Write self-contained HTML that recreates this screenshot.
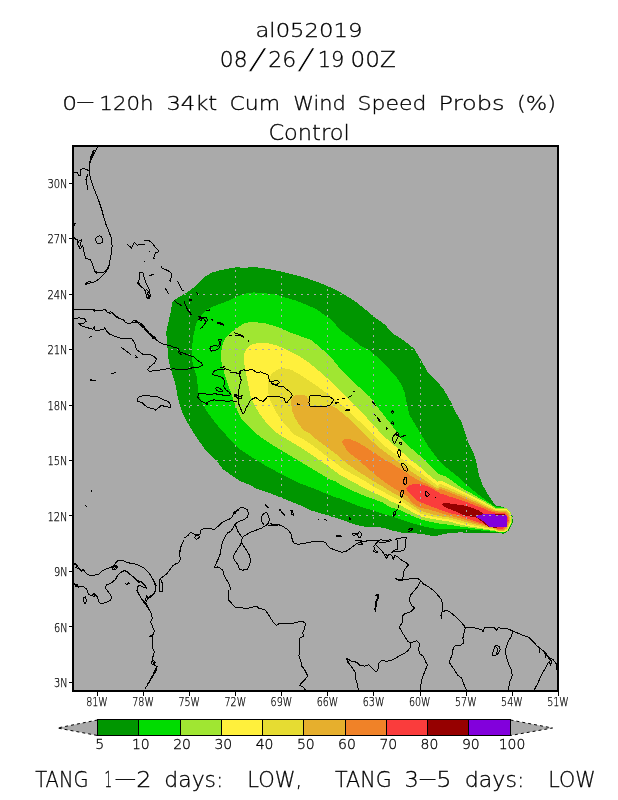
<!DOCTYPE html>
<html lang="en"><head><meta charset="utf-8"><title>al052019 0-120h 34kt Cum Wind Speed Probs</title>
<style>html,body{margin:0;padding:0;background:#fff;overflow:hidden}svg{display:block;will-change:transform}text{font-family:"DejaVu Sans Light","DejaVu Sans","Liberation Sans",sans-serif;font-weight:200;fill:#000;stroke:#000;stroke-width:.3px}.t{font-size:20.5px}.t1{font-size:19px}.t3{font-size:19.6px}.s{font-size:28px;stroke:#fff;stroke-width:.5px}.b{font-size:22px}.a{font-size:12px;stroke-width:.25px}.c{font-size:14px;stroke-width:.3px}</style></head><body>
<svg width="618" height="800" viewBox="0 0 618 800">
<rect width="618" height="800" fill="#fff"/>
<rect x="73" y="146" width="485" height="545" fill="#aaaaaa"/>
<clipPath id="cp"><rect x="73" y="146" width="485" height="545"/></clipPath>
<g clip-path="url(#cp)">
<g shape-rendering="crispEdges">
<path d="M257.0,267.3L270.0,269.3L283.0,272.0L305.6,277.8L325.0,284.8L341.0,292.6L354.0,300.5L366.0,310.0L375.6,318.0L385.0,324.7L391.8,332.8L404.7,341.0L414.4,349.0L421.0,360.0L427.4,371.7L437.0,381.4L444.0,390.0L449.8,400.0L453.0,406.5L457.0,414.6L461.0,421.0L465.0,432.0L468.0,442.0L472.7,451.0L476.0,460.0L478.9,475.2L483.0,485.8L488.3,495.2L495.7,505.7L503.0,506.8L508.3,510.0L512.5,516.3L512.5,523.6L508.3,531.0L504.0,533.7L492.0,532.7L469.4,532.7L460.0,532.4L450.6,532.9L444.0,534.0L437.7,535.6L432.8,536.0L424.7,534.5L416.6,533.4L408.5,533.4L400.5,532.4L392.4,530.5L384.3,528.0L376.2,526.9L368.0,527.2L359.0,525.6L350.9,523.2L342.8,520.0L334.7,517.5L326.6,515.0L318.5,512.7L310.5,510.2L302.4,506.2L294.3,503.0L286.2,499.7L278.0,496.5L270.0,493.2L257.0,489.0L250.0,485.0L239.0,480.5L230.9,474.8L222.8,469.0L218.0,462.7L211.5,456.2L205.0,449.7L198.5,440.0L192.0,430.3L186.4,420.6L182.4,412.5L179.0,402.8L177.5,395.6L175.9,385.9L173.5,377.8L171.0,369.7L168.6,360.0L167.8,352.0L167.0,342.2L166.2,332.5L167.8,324.4L170.2,314.7L172.7,301.0L180.7,296.2L188.8,291.3L196.9,284.9L205.0,276.8L211.5,272.7L219.6,270.3L227.7,268.7L235.8,267.4L243.9,267.6Z" fill="#009600"/>
<path d="M253.9,292.4L273.3,294.0L295.9,300.5L315.3,308.5L331.5,319.9L340.0,329.6L346.9,335.0L353.4,339.9L361.5,346.3L369.6,350.4L376.0,356.0L384.0,363.3L390.6,370.6L397.0,377.9L401.0,384.0L404.5,392.0L406.0,400.0L407.7,406.5L409.3,414.6L414.1,422.7L419.0,430.7L423.8,438.8L428.7,446.9L433.5,453.4L438.4,459.9L444.9,466.3L452.9,472.8L460.0,478.5L468.0,486.0L477.0,493.5L486.2,500.4L494.7,506.4L503.0,507.4L507.9,510.6L511.7,516.5L511.7,523.6L507.7,530.4L503.9,532.9L495.7,532.2L484.0,530.8L470.0,529.5L460.0,528.8L450.0,529.3L440.0,529.5L430.0,527.8L420.4,525.6L410.0,522.5L400.0,519.3L390.0,515.9L382.7,513.7L373.5,510.8L369.0,509.3L359.4,506.4L349.7,502.5L340.0,498.6L334.7,497.3L326.6,493.8L315.0,489.0L299.0,483.0L283.0,475.0L266.8,466.3L250.0,456.0L240.6,449.7L232.5,442.4L226.0,435.0L219.6,427.9L213.0,419.8L206.6,410.9L201.8,402.8L198.5,394.0L197.7,385.9L197.0,377.8L194.5,369.7L192.4,361.6L191.7,353.5L192.4,343.8L193.7,334.0L196.0,324.4L200.0,316.3L206.6,309.9L213.0,306.5L219.6,304.0L227.7,301.0L235.8,297.0L243.9,293.8Z" fill="#00dc00"/>
<path d="M250.2,322.0L263.8,322.9L277.4,326.8L289.0,332.0L301.5,336.5L311.0,340.0L319.0,346.5L326.0,352.5L334.0,361.0L340.5,369.0L346.9,375.5L353.4,382.0L361.5,389.2L369.6,396.5L376.0,405.0L382.6,413.6L389.0,421.7L395.0,429.8L400.5,437.5L407.0,444.5L413.4,450.2L419.9,455.8L426.3,462.3L432.8,468.8L439.3,474.4L444.9,476.0L449.7,478.9L454.6,482.8L459.4,486.2L464.3,489.6L469.0,492.0L474.0,494.9L478.8,497.8L483.7,500.3L488.5,503.2L492.4,505.6L495.3,507.6L500.0,508.3L507.4,508.5L510.4,511.5L511.6,516.8L511.6,522.9L508.1,530.2L504.6,532.4L497.0,531.8L495.7,531.4L484.0,529.6L470.0,527.8L460.0,526.5L450.0,524.8L440.0,523.7L430.0,521.8L420.4,519.3L410.0,514.7L400.0,510.0L390.0,507.2L382.7,502.5L373.5,499.0L369.0,497.7L359.4,493.8L349.7,489.4L340.4,484.6L335.2,481.0L330.0,479.5L320.9,474.0L304.7,464.4L288.5,454.7L272.4,445.0L264.0,439.5L256.2,433.7L248.0,425.5L241.5,418.5L238.2,412.5L234.0,402.0L230.9,392.5L228.0,384.3L225.2,376.2L222.8,368.0L221.2,360.0L221.2,352.0L222.8,343.8L226.0,337.4L230.9,332.5L237.4,327.7L243.9,323.5Z" fill="#a0e632"/>
<path d="M258.3,342.8L267.2,343.0L276.9,345.5L285.0,348.8L293.0,352.8L301.0,357.3L308.0,362.0L315.0,367.5L322.0,373.5L329.0,379.8L335.5,386.0L342.0,392.5L348.5,399.0L355.0,405.5L361.5,412.0L367.5,418.5L373.0,424.3L379.4,431.6L385.9,438.0L392.4,443.7L398.8,449.4L405.3,455.0L411.8,460.7L418.3,465.5L424.7,471.2L431.2,476.9L437.7,481.7L440.0,480.4L444.9,482.3L449.7,484.7L454.6,487.2L459.4,489.6L464.3,492.0L469.0,494.4L474.0,496.9L478.8,499.3L483.7,502.0L488.5,504.6L492.4,506.9L495.3,508.5L500.0,509.0L507.0,509.2L510.0,512.2L511.2,517.5L511.2,522.5L507.7,529.8L504.2,532.0L497.0,531.4L495.7,530.6L484.0,528.6L470.0,526.5L460.0,524.6L450.0,521.6L440.0,520.3L430.0,518.5L420.4,516.4L410.0,510.7L400.0,505.0L390.0,500.9L382.7,496.7L373.5,492.8L369.0,490.4L359.4,485.5L349.7,480.2L340.0,474.9L335.2,471.4L330.0,467.5L322.0,462.0L312.0,455.0L300.0,447.0L290.0,441.0L281.3,436.0L275.3,432.0L269.6,426.4L264.8,420.8L259.9,414.3L255.9,407.8L252.7,401.3L250.2,394.9L248.6,386.8L247.0,378.7L245.4,370.6L244.2,362.5L244.2,354.4L246.2,348.8L251.0,344.7Z" fill="#fff03c"/>
<path d="M283.4,368.2L291.5,369.8L299.8,374.6L307.8,379.8L316.0,385.2L324.0,391.2L332.4,397.3L340.5,403.8L346.9,409.4L353.4,415.9L359.9,421.8L366.5,428.0L373.0,434.5L379.4,440.5L385.9,446.9L392.4,451.8L398.8,456.6L405.3,461.5L411.8,466.3L418.3,471.2L424.7,476.0L431.2,480.9L437.7,485.8L440.0,483.8L444.9,485.7L449.7,487.7L454.6,490.0L459.4,492.3L464.3,494.4L469.0,496.6L474.0,499.0L478.8,501.2L483.7,503.7L488.5,506.0L492.4,508.0L495.3,509.5L500.0,509.8L506.5,510.0L509.5,513.0L510.7,518.3L510.7,522.0L507.2,529.3L503.7,531.5L497.0,530.9L495.7,529.8L484.0,527.5L470.0,524.8L460.0,522.6L450.0,519.6L440.0,518.2L430.0,516.0L420.4,513.5L410.0,507.0L400.0,500.5L390.0,495.5L382.7,491.4L373.5,486.5L364.3,480.7L354.6,475.3L345.3,470.0L340.4,466.9L335.2,462.4L330.0,459.0L322.0,452.5L312.0,445.0L303.0,439.0L294.7,435.0L289.0,428.9L283.4,422.4L278.5,415.9L274.5,409.4L271.3,403.0L268.8,396.5L268.0,388.4L268.5,380.3L271.3,373.8L276.9,369.8Z" fill="#e6dc32"/>
<path d="M291.2,399.7L293.9,395.7L299.6,394.5L306.0,395.8L308.6,398.9L309.0,406.2L316.2,406.5L324.3,406.2L330.7,405.4L335.6,407.8L342.0,412.7L348.5,418.3L355.0,424.8L361.0,431.0L366.5,436.4L373.0,442.0L379.4,447.7L385.9,452.6L392.4,457.4L398.8,462.3L405.3,467.0L411.8,472.0L418.3,476.0L424.7,480.0L431.2,484.5L437.7,488.6L440.0,486.7L444.9,488.4L449.7,490.4L454.6,492.5L459.4,494.4L464.3,496.4L469.0,498.5L474.0,500.8L478.8,503.0L483.7,505.1L488.5,507.6L492.4,509.2L495.3,510.5L500.0,510.7L505.9,510.9L508.9,513.9L510.1,519.2L510.1,521.5L506.6,528.8L503.1,531.0L497.0,530.4L495.7,529.0L484.0,526.3L470.0,523.0L460.0,520.3L450.0,517.6L440.0,516.2L430.0,513.6L420.4,510.6L410.0,503.5L400.0,496.5L390.0,491.2L382.7,486.5L373.5,481.2L364.3,475.3L356.0,470.0L350.7,466.2L345.5,462.4L340.4,457.8L335.2,453.3L330.0,449.4L324.7,445.6L316.9,439.8L309.0,433.0L303.6,430.5L298.8,424.0L294.7,417.5L292.3,411.0L291.2,404.6Z" fill="#e6af2d"/>
<path d="M341.7,441.7L344.2,439.3L349.4,439.0L354.6,441.0L359.8,443.6L365.0,446.8L370.0,450.0L375.3,453.3L380.5,457.2L385.7,460.4L390.8,463.0L396.0,466.2L401.2,469.5L406.4,472.7L411.8,476.5L418.3,480.3L424.7,483.0L431.2,486.4L437.7,490.2L440.0,489.0L444.9,490.6L449.7,492.5L454.6,494.4L459.4,496.4L464.3,498.5L469.0,500.5L474.0,502.7L478.8,504.6L483.7,506.6L488.5,509.0L492.4,510.5L495.3,511.4L500.0,511.6L505.2,511.8L508.2,514.8L509.4,520.1L509.4,520.8L505.9,528.1L502.4,530.3L497.0,529.7L495.7,528.2L484.0,525.2L470.0,521.3L460.0,518.3L450.0,515.8L440.0,512.8L430.0,509.8L420.0,507.8L412.0,502.8L407.7,496.5L402.5,493.4L397.3,490.2L392.0,487.0L387.0,483.7L381.8,479.8L376.6,476.0L371.4,471.4L366.2,466.9L361.0,462.4L355.9,457.8L350.7,454.0L346.2,449.4L343.6,444.9Z" fill="#f08228"/>
<path d="M406.0,488.2L408.5,485.8L413.4,484.0L419.9,483.8L426.3,485.8L432.8,489.0L439.3,492.6L440.0,493.5L444.9,494.9L449.7,496.6L454.6,498.1L459.4,499.8L464.3,501.2L469.0,503.0L474.0,504.9L478.8,506.9L483.7,508.5L488.5,510.8L492.4,511.9L495.3,512.7L500.0,512.9L504.4,513.1L507.4,516.1L508.6,521.4L508.6,519.8L505.1,527.1L501.6,529.3L497.0,528.7L495.7,527.6L485.0,524.2L470.0,519.6L460.0,515.5L450.0,513.2L440.0,509.8L430.0,506.0L420.0,502.0L416.6,500.0L413.4,497.0L408.5,492.2Z" fill="#fa3c3c"/>
<path d="M441.9,504.6L443.9,503.2L449.7,503.5L454.6,504.2L459.4,504.9L464.3,505.6L469.0,506.9L474.0,508.5L478.8,510.5L481.7,512.4L484.0,513.9L500.0,514.2L506.0,514.6L506.6,520.0L506.3,527.2L494.0,527.6L488.5,527.2L483.0,522.5L476.5,517.6L470.0,516.5L463.3,515.3L459.4,513.4L454.6,511.0L449.7,509.0L444.9,507.0Z" fill="#960000"/>
<path d="M475.7,516.4L482.2,514.3L506.3,514.7L507.0,520.0L506.8,526.6L489.5,526.6L483.7,521.5Z" fill="#8200dc"/>
</g>
<path d="M97.5,146V691M143.5,146V691M189.5,146V691M235.5,146V691M281.5,146V691M327.5,146V691M373.5,146V691M420.5,146V691M466.5,146V691M512.5,146V691M558.5,146V691M73,183.5H558M73,238.5H558M73,294.5H558M73,349.5H558M73,405.5H558M73,460.5H558M73,515.5H558M73,571.5H558M73,626.5H558M73,682.5H558" stroke="#aaaaaa" stroke-width="1" stroke-dasharray="2 4.5" fill="none" shape-rendering="crispEdges"/>
<path d="M97.5,146.9L95.1,151.5L91.8,157.9L89.7,164.4L89.4,170.9L90.2,177.4L92.7,185.5L95.9,193.5L99.1,201.6L101.6,209.7L104.0,217.8L106.4,225.9M94.6,149.9L92.7,153.9L90.7,158.8L89.4,163.1M93.6,150.2L91.4,155.0L90.1,159.9M73.2,172.8L77.3,172.5L78.9,176.1L80.7,175.4L81.0,172.5L80.5,169.3L83.8,168.5L87.8,170.1L89.7,170.9M88.1,174.4L86.5,177.4L86.2,181.4L87.2,185.5L87.5,190.0M87.2,176.6L85.9,179.8L86.8,183.8M99.9,205.7L101.6,209.7L102.8,213.8L103.5,217.0M100.7,206.5L102.4,211.3L103.2,216.2M73.6,222.7L75.2,223.6L74.5,225.3L73.2,224.9M106.4,225.0L108.8,231.5L111.3,237.9L112.1,246.0L111.3,254.1L109.6,262.2L108.0,268.7L104.8,273.5L99.9,278.4L95.1,281.6L89.4,283.3L84.6,284.5M84.9,283.9L88.1,282.0L91.4,281.0M74.0,237.6L77.3,240.4L78.1,245.2L80.0,249.3L82.6,245.2L83.8,250.9L85.4,258.2L90.2,259.8L92.7,264.6L94.3,270.3L95.9,273.2L99.9,272.7L104.8,271.9L108.0,267.4M76.5,238.8L78.9,242.8L77.8,241.2L80.0,240.9L81.3,239.9L80.7,244.1L79.4,247.3M94.3,270.6L96.7,272.2L95.6,272.9M104.8,272.2L108.5,267.4L109.5,263.8M99.1,235.8L96.2,237.6L95.4,240.4L97.2,243.1L99.9,244.1L102.0,242.5L102.7,239.2L101.6,236.7L99.1,235.8M127.4,244.4L131.5,248.0L134.4,242.5L137.2,245.2L142.0,244.4L144.8,244.1M144.4,240.7L149.3,240.7L152.5,243.6L155.8,247.7L158.2,250.1L157.9,252.5L155.8,252.2L154.5,254.9L153.8,258.2L155.3,259.3M149.3,251.2L150.4,252.2M144.4,261.4L145.4,262.5M139.6,272.4L142.8,272.4L144.4,278.4L146.9,284.9L149.3,289.7L150.1,294.6L149.3,298.6L147.3,298.6L146.1,294.6L144.8,289.7L142.0,287.3L139.6,284.9L137.2,283.3L138.8,280.8L139.9,276.8L139.6,272.4M137.2,282.4L139.3,283.6L138.0,281.6M146.1,288.9L149.0,291.7L147.0,293.0L149.3,296.2L147.7,297.8M149.3,275.5L154.1,274.4M149.6,275.2L153.8,274.7M74.0,310.0L79.7,309.1L86.2,310.0L92.7,309.5L94.3,311.6L95.9,310.0L102.4,310.4L104.8,309.1L108.0,313.2L110.5,311.6L113.7,314.0L116.9,317.2L120.2,318.9L123.4,319.7L125.8,322.9L129.9,323.4L133.9,322.1L138.0,321.8L141.2,323.7M93.5,309.1L95.1,310.8L93.9,312.1M107.5,312.1L109.6,313.7L111.7,312.7M117.2,316.9L119.4,318.5M141.2,324.4L143.6,327.7L146.1,330.9L149.3,333.3M132.3,321.2L135.5,320.4L138.8,322.5L142.0,324.1L144.4,326.8L142.8,325.7L146.1,329.3L148.5,331.7L147.3,332.8L150.9,334.4L153.3,337.4L152.2,338.2L155.8,339.3L157.4,340.9M133.9,322.0L138.0,323.1L141.2,325.7L144.8,328.9L147.7,332.2L150.9,335.7L154.5,339.0M74.0,318.3L79.7,317.9L85.4,319.2L86.2,321.2L83.8,323.1L78.9,323.6L81.3,325.7L86.2,327.3L92.7,329.3L94.3,326.8L95.1,330.1L99.9,330.1L104.0,329.3L104.8,327.7L106.4,330.9L109.6,334.1L114.5,336.1L118.5,337.4L122.6,339.0L127.4,338.7L131.5,338.7L133.9,341.4L135.5,345.5L136.3,349.5L139.6,351.9L143.6,354.8L149.3,354.4L154.1,356.5L156.6,359.2L154.1,363.3L150.1,366.5L147.7,369.7L149.3,371.3L155.8,370.5L162.2,369.7L170.0,368.4M88.6,338.2L91.5,336.1M121.5,347.4L125.8,350.6L130.7,354.4M134.7,354.8L137.6,358.1M135.0,357.1L137.3,357.8M110.5,374.3L113.4,373.3L115.6,372.6M90.2,379.9L95.6,380.2M90.2,380.6L95.6,380.9M162.1,265.5L161.7,267.9L165.4,269.5L168.6,271.1L171.8,273.5L171.0,278.4L170.2,281.3L169.1,280.0M177.8,281.3L179.9,285.7L182.4,290.5L184.3,291.0M165.4,288.4L167.0,291.3L168.6,294.3M173.9,300.2L176.7,302.7L179.9,304.6L181.6,305.1M183.7,300.7L185.3,304.3L186.4,307.5L188.0,310.0L190.5,313.2L191.7,314.8M186.9,308.3L188.8,310.8M188.8,299.8L192.4,299.8M189.2,300.2L192.4,300.2M196.9,291.7L197.2,294.6M198.5,316.4L201.8,317.6L204.2,318.9L205.8,322.1L204.2,323.7M199.4,316.9L202.6,318.5L201.5,317.6M206.6,310.8L209.1,310.0M211.5,318.9L212.8,319.7M217.2,322.9L219.9,322.7L222.8,323.7L219.9,323.7L217.2,322.9M150.0,294.6L150.8,297.0M150.0,333.3L153.2,336.6L156.5,339.8L159.7,342.5L164.6,344.6L169.4,345.5L174.3,347.4L178.3,348.4L179.9,351.9L184.0,353.5L188.8,355.2L193.7,356.8L196.9,360.0L201.0,362.4L202.6,364.9L198.5,367.3L193.7,367.3L188.8,368.9L182.4,369.7L174.3,368.9L170.2,369.1M150.8,334.4L154.0,338.2L156.5,339.3L153.6,336.1M177.8,350.6L179.1,353.5L181.1,354.5L179.9,351.9M179.9,305.0L182.4,305.8M186.4,308.2L188.8,311.5L191.3,315.0M186.9,309.5L189.5,312.8M198.5,316.3L203.4,317.9L206.6,317.1L207.4,320.4L205.0,323.6L201.8,327.7L200.5,328.5M199.4,317.1L201.8,320.4L198.5,319.6L200.5,317.9M207.4,310.7L209.9,309.9M211.5,319.2L212.8,320.4M217.2,322.5L221.2,323.6L224.4,325.2M217.6,323.1L221.2,324.3L224.1,325.7M209.9,348.7L210.7,346.7L214.7,345.5L218.0,346.3L219.6,343.8L218.8,339.8L221.2,339.8L220.4,345.5L218.8,348.7L214.7,350.6L211.5,351.1L209.9,348.7M229.3,335.7L232.5,334.9M234.1,332.5L238.2,334.1L242.2,335.4L243.5,336.6M247.9,339.8L249.0,341.9M212.3,373.8L214.4,371.0L218.8,369.4L226.1,368.9L230.9,370.5M220.4,367.3L224.8,366.8L222.8,367.8L220.4,367.3M212.3,373.8L214.7,375.4L219.6,376.2L223.6,378.6L224.8,382.7L223.6,386.7L226.1,390.0L229.3,392.4L230.9,394.8L226.1,395.6L221.2,394.8L214.7,393.7L208.3,394.8L203.4,393.2L198.5,394.0L197.7,397.2M215.5,388.3L218.0,387.5L222.0,390.0L222.8,391.6L219.6,391.6L216.3,390.0L215.5,388.3M197.7,397.1L200.2,400.4L205.8,403.6L209.1,401.2L213.9,399.9L219.6,400.4L226.1,401.2L232.5,400.9L237.4,402.0M205.8,403.6L207.0,404.7L208.3,402.5M230.0,373.0L234.9,372.5L238.9,373.8L240.5,370.6L243.8,369.8L247.8,370.9L250.2,369.0L253.5,370.3L256.7,372.5L260.7,371.9L264.8,373.8L268.0,374.6L268.8,377.9L269.6,381.1L272.1,381.9L275.3,380.6L278.5,381.1L279.4,382.7L276.9,384.4L272.9,384.4L271.3,382.7L276.1,385.5L280.2,386.5L284.2,387.1L287.4,390.0L290.7,392.4L292.3,395.2L290.7,398.1L288.3,400.5L286.6,403.0L285.0,401.3L284.2,398.9L281.8,397.3L276.9,396.5L271.3,396.8L268.0,396.2L265.6,398.9L263.2,401.3L259.9,400.5L257.5,398.9L255.9,397.3L252.7,398.9L250.2,400.5L248.6,403.8L246.2,407.8L244.6,412.7L242.9,413.5L241.3,410.2L239.7,406.2L238.1,402.2M240.5,370.6L239.7,375.5L241.3,380.3L239.4,385.2L238.9,390.0L238.1,394.9L238.9,399.7L238.1,402.2M235.7,394.9L238.9,396.5L242.1,395.7L241.3,398.1L237.3,398.1L235.7,394.9M234.9,394.5L236.8,394.5L236.8,396.2L234.9,396.2L234.9,394.5L236.8,396.2M234.9,335.0L241.3,335.8L243.8,337.4M248.6,340.3L248.8,341.5M297.2,403.8L299.6,404.3M297.2,404.3L299.6,404.7M285.8,402.6L287.4,401.7L286.6,403.3M309.7,395.7L316.2,395.7L324.3,396.2L329.9,396.8L334.0,399.7L331.6,403.0L329.1,405.9L324.3,406.2L316.2,406.5L310.0,406.2L308.9,403.0L309.4,398.9L309.7,395.7M334.8,403.0L338.8,402.2M334.8,403.4L338.8,402.6M337.5,399.7L339.2,399.4M342.4,398.9L345.3,398.1M347.7,397.3L350.2,396.5L351.8,395.7M352.6,391.6L354.2,391.3L354.7,392.4M345.3,410.2L350.2,409.4M345.3,410.7L350.2,409.9M372.0,401.3L373.6,403.0L374.8,404.9L376.1,405.9M372.3,401.0L374.1,403.3M374.4,414.3L376.1,415.9M377.3,417.5L379.3,419.1L380.1,421.6L379.0,420.4L377.3,417.5M391.9,410.7L393.2,411.4L392.9,413.3L391.7,412.7L391.9,410.7M391.9,421.6L393.9,422.4L393.5,424.3L391.9,423.7L391.9,421.6M386.1,427.6L387.4,428.2L386.7,429.2L386.1,427.6M393.2,436.4L394.8,434.8L396.4,432.4L398.8,433.2L398.0,436.4L400.5,437.2L403.7,435.9L406.1,434.8M398.0,437.2L396.4,440.5L394.8,443.4L393.2,442.1L392.4,438.8L393.2,436.4M395.9,433.2L397.2,435.9L398.5,433.7M399.6,442.4L401.7,442.9L401.3,444.5L399.6,444.0L399.6,442.4M398.5,449.4L400.5,450.5L400.8,454.2L399.6,457.4L398.2,455.0L397.7,451.8L398.5,449.4M401.3,463.9L403.7,463.4L406.1,466.3L407.7,469.6L406.9,471.5L404.5,470.4L402.9,468.0L401.7,465.5L401.3,463.9M404.5,477.7L406.6,477.3L406.9,480.9L405.8,484.5L404.0,483.8L403.7,480.6L404.5,477.7M401.3,490.6L403.4,490.9L402.9,494.7L401.3,497.9L400.5,495.5L401.3,490.6M425.5,491.4L427.6,492.2L429.3,494.7L427.6,496.8L426.0,495.5L425.5,491.4M435.1,497.7L435.6,498.2M400.5,501.3L399.6,503.3M398.8,505.4L398.0,507.5M397.2,509.1L396.6,510.7M394.0,511.8L395.6,511.4L395.3,514.3L393.7,516.2L393.2,513.9L394.0,511.8M407.7,530.5L410.2,528.5L412.6,528.5L411.0,530.8L408.5,531.7L407.7,530.5M394.8,539.4L398.8,538.5L402.9,537.7L406.9,537.2L405.3,540.2L405.6,545.0L404.5,549.9L400.5,551.2L395.6,551.5L391.6,552.3L394.8,549.9L398.0,549.1L397.5,544.2L397.5,540.2L394.8,539.4M360.0,541.8L366.5,541.0L372.1,540.2L376.2,540.5L381.0,539.8L385.9,540.5L390.7,539.8L391.6,540.6L385.9,542.1L381.0,542.6L377.8,541.8L375.4,544.2L373.8,546.6L374.6,549.9L377.8,552.3L373.8,551.8L373.3,550.2M375.4,544.2L377.0,545.8L379.4,548.3L381.8,550.7L384.3,554.4L386.7,558.8L388.3,554.7L389.9,553.9L392.4,556.3L393.2,559.6L394.8,555.5L397.2,556.3L399.6,558.8L402.1,560.4L405.3,562.0L408.5,564.8L406.1,567.7L404.0,570.9L403.4,575.8L402.4,579.0L400.5,580.6M385.6,553.9L387.2,556.7L388.8,555.5M270.0,523.2L273.2,524.8L278.1,524.8L282.9,526.4L287.8,529.6L291.0,533.7L291.8,537.7L292.7,541.0L294.3,543.7L299.1,544.2L304.0,543.4L308.8,542.6L313.7,541.5L318.5,541.5L323.4,541.8L326.6,543.4L327.4,545.8L330.7,548.3L334.7,549.9L338.8,551.2L342.0,552.3L346.1,551.2L349.3,549.1L353.3,546.3L355.8,544.2L359.0,542.6L363.9,541.5L370.0,540.5M279.7,509.4L282.1,512.7L284.6,515.1L282.9,513.5L280.7,510.2L279.7,509.4M290.2,510.2L292.7,511.0L293.5,515.1L291.8,514.3L291.0,511.0M317.6,520.1L318.7,519.4M324.2,519.1L326.6,520.4M349.0,519.1L349.9,517.7L350.9,519.3L349.0,519.1M336.3,535.6L341.2,536.0L341.2,536.6L336.3,536.3L336.3,535.6M352.5,534.0L355.0,532.9L358.2,533.7L359.0,531.7L360.6,532.4L361.9,535.3L359.8,537.7L358.2,536.9L357.4,534.5L353.3,535.3L352.5,534.0M355.0,541.0L359.0,540.5L363.9,541.5M355.8,543.4L360.6,542.6L363.0,544.2L359.0,544.2L355.8,543.4M183.6,538.5L188.1,535.3L190.5,532.4L193.8,533.7L195.4,535.0L200.2,534.0L201.0,530.1L203.5,528.5L208.3,528.8L214.8,529.2L218.0,526.4L221.3,523.2L225.3,520.7L229.4,519.1L232.6,516.7L233.4,512.7L235.8,511.0L238.3,509.4L240.7,507.5L243.9,507.8L247.2,509.7L248.8,513.5L247.2,517.2L244.7,519.4L240.7,520.7L237.4,522.4L235.0,524.0L236.6,528.0L238.3,532.1L240.7,535.3L242.3,537.7L243.9,536.1L248.0,533.7L252.8,531.3L257.7,529.6L261.7,528.0L265.0,525.9L267.4,524.8L270.6,525.6L275.5,525.3L280.0,524.8M195.4,535.6L194.9,537.7L196.5,539.2L198.6,538.5L199.4,536.6L197.8,535.0L195.4,535.6M233.4,512.7L235.0,513.9L236.6,511.4L239.1,509.7M264.1,524.8L261.7,521.6L261.4,517.5L263.3,513.9L266.6,512.3L268.7,515.9L269.3,519.9L268.2,523.2L266.6,524.8M265.4,504.6L267.4,506.2L268.7,508.1M265.8,505.2L268.0,507.5M279.0,509.4L280.0,511.0M242.3,537.7L241.5,541.8L242.3,544.2L244.7,547.4L247.2,551.5L249.6,555.5L250.4,560.4L249.6,565.2L247.2,569.3L243.1,570.1L239.5,569.6L238.6,566.1L236.6,562.8L234.2,559.6L233.4,556.3L235.0,553.1L237.4,549.1L239.9,545.8L241.5,542.6M235.0,524.0L233.4,527.2L231.0,531.3L227.7,532.9L225.3,536.1L222.9,541.0L221.3,546.6L220.5,553.1L218.8,558.0L216.4,562.8L214.3,567.7L218.0,566.9L220.5,568.5L222.9,570.1L223.7,574.1L226.1,579.0L228.5,583.0L230.2,587.1L230.5,590.0M73.9,562.8L76.8,564.8L78.7,567.7L80.7,570.6L83.6,569.6L85.5,572.5L88.4,575.0L93.3,575.4L98.2,574.5L102.0,571.2L105.9,569.2L109.8,567.7L113.7,565.7L116.6,561.8L118.5,560.3L123.4,560.9L128.3,562.8L134.1,563.8L138.9,565.3L143.8,567.7L147.7,571.6L150.6,575.4L152.5,579.3L154.5,583.2L155.4,587.1L155.4,591.0L153.5,593.9L150.6,595.8L147.7,598.7L145.7,602.6L147.7,606.5L148.6,608.8M74.3,563.8L77.8,566.1L75.8,567.3L79.7,569.2L81.7,571.2L84.0,570.4M111.7,567.7L114.7,564.8L117.6,566.7L115.6,569.6L113.1,570.0L111.7,567.7L116.6,566.1L114.3,569.2M152.5,578.3L154.5,582.2L156.4,586.1M159.3,579.3L159.7,585.1L159.3,591.0L162.2,591.4L162.8,585.1L161.3,580.3L159.3,579.3M159.3,579.3L163.2,576.4L167.1,573.5L170.0,569.6L172.9,565.7L175.8,563.8L178.7,562.8L180.3,558.9L179.7,554.1L180.7,548.3L181.7,544.4L183.6,540.5M179.3,554.1L180.3,548.3L181.1,546.3M73.9,584.2L77.8,586.1L82.6,586.1L86.5,589.0L88.4,593.9L91.4,595.8L94.3,593.9L97.2,596.8L99.1,602.6L102.0,603.6L105.9,602.6L109.8,600.7L111.7,597.8L109.8,593.9L106.9,590.0L105.0,587.1L106.9,584.8L111.7,582.8L115.6,579.3L117.6,575.4L120.5,572.5L124.4,570.6L127.3,571.6L130.2,574.5L134.1,577.4L137.0,580.3L139.9,581.3L142.8,583.2L145.7,586.1L146.7,588.1L142.8,587.1L139.9,585.1L137.0,587.1L137.0,590.0L138.9,593.9L140.9,597.8L143.8,601.7L146.7,605.5L148.6,608.4M74.3,583.6L78.2,585.1L75.8,586.7L79.3,587.1M136.4,579.7L139.5,582.8L138.0,580.9L141.5,581.7L143.8,584.8M92.9,592.5L94.9,595.8L93.7,596.8M125.3,583.2L127.3,584.8L128.3,582.8L130.2,584.4M146.7,595.8L148.6,597.8L146.7,599.7M83.6,597.8L85.5,596.8L86.5,600.7L85.1,603.6L84.0,601.7L83.6,597.8M85.5,505.5L86.5,507.1M91.4,490.0L91.4,491.6M136.8,590.0L139.7,595.8L142.6,600.7L145.5,604.6L148.4,608.4L151.4,613.3L152.3,618.2L150.4,622.0L152.3,625.9L154.3,630.8L153.3,634.7L149.4,636.2L152.3,636.6L152.3,642.4L152.9,648.3L154.3,652.1L152.9,657.0L152.3,660.9L154.3,664.8L157.2,666.7L156.2,670.6L153.3,675.4L150.4,680.3L147.5,685.1L144.6,689.4M151.7,661.5L153.7,660.3L155.2,662.8L153.3,664.8L151.4,663.4L151.7,661.5M156.8,666.1L155.2,670.0L152.9,675.0L149.4,681.3L147.1,684.8M155.2,590.0L154.3,593.9L151.4,596.8L148.4,598.2L146.5,595.8L145.5,599.7L144.6,602.6M228.6,590.0L228.6,595.8L229.0,600.7L230.0,601.3M230.0,601.1L232.9,605.0L235.8,607.9L241.7,607.9L247.5,608.4L253.3,606.9L256.2,605.9L259.1,608.4L265.0,609.8L267.9,613.7L270.8,618.5L273.7,622.8L276.6,625.3L279.5,623.4L286.3,624.0L292.1,623.4L298.0,622.0L302.8,621.5L305.3,623.4L304.8,628.3L302.8,632.1L303.4,636.0L299.9,638.0L299.5,643.8L299.9,649.6L298.9,655.4L300.9,661.3L301.8,666.1L304.8,670.0L307.7,675.8L304.8,679.7L301.8,682.6L299.5,685.5L302.8,686.5L305.3,690.0M346.5,658.3L347.5,662.2L350.0,665.1M401.7,580.1L395.3,578.7L400.2,580.7L406.0,579.3L411.8,578.7L417.7,578.2L420.6,580.7L423.5,584.0L428.3,586.5L433.2,590.4L437.1,594.3L441.0,599.1L442.9,605.0L442.5,610.8L441.0,615.6L441.4,619.5M395.3,578.2L398.3,580.1L401.7,579.7M420.6,580.7L417.7,586.5L413.8,591.4L410.3,595.2L409.5,601.1L411.8,605.9L414.8,607.9L410.9,611.7L405.0,613.7L402.1,616.6L402.5,622.4L399.2,627.3L402.1,632.1L405.0,637.0L408.3,641.8L410.9,642.8M410.9,642.8L416.7,640.9L419.6,643.8L418.6,649.6L419.6,653.5L423.5,656.4L425.4,661.3L427.4,665.1L425.4,670.0L423.5,674.9L421.6,680.7L420.6,686.5L420.6,690.0M410.9,642.8L410.9,646.7L408.0,650.6L404.1,653.5L400.2,655.4L395.3,658.3L391.5,660.3L386.6,661.3L381.7,660.3L378.8,663.2L377.9,670.0L375.9,671.9L372.0,668.1L369.1,664.8L364.3,666.1L359.4,665.1L356.5,662.2L351.7,661.3L346.8,658.3L348.7,663.2L352.6,668.1L355.5,672.9L355.5,678.7L357.5,684.6L358.4,690.0M375.9,594.3L378.8,594.9L377.9,599.1L375.9,603.0L376.9,605.9L375.0,608.8L375.3,611.7M375.0,594.9L377.9,595.6L376.9,599.5L375.0,603.4L375.7,606.5L374.2,609.8M442.9,611.7L445.8,610.4L449.7,611.7L453.6,615.0L457.5,618.5L461.4,622.4L464.3,625.9L465.2,627.9L471.1,627.3L476.9,628.3L481.7,629.8L483.1,632.1L484.3,627.9L488.5,627.3L494.4,627.9L496.3,630.2L498.3,627.9L504.1,628.3L508.9,629.2L512.8,631.2L517.7,633.1L523.5,635.6L528.3,637.0L531.3,639.9L535.1,643.8L539.0,647.7L542.9,650.6L545.8,652.5L546.8,655.4L549.7,658.3L552.6,659.3L555.5,662.2L556.5,666.1L557.1,671.0M465.2,627.9L464.3,632.1L462.9,638.0L463.7,642.8L460.4,645.3L455.5,645.7L453.2,647.7L452.6,653.5L450.7,658.3L449.3,662.2L451.7,666.1L454.6,670.0L457.5,674.9L461.4,677.8L463.3,682.6L465.2,687.5L466.8,690.0M512.8,632.1L510.9,637.0L508.0,641.8L506.0,647.7L505.6,653.5L507.0,659.3L508.9,665.1L511.5,670.0L512.2,675.8L509.9,681.7L508.9,686.5L508.0,690.0M550.7,660.3L547.8,663.2L544.9,669.0L541.0,675.8L538.1,682.6L535.1,688.4L534.2,690.0M495.3,645.7L499.2,646.1L500.2,649.6L498.3,653.5L495.3,655.4L492.4,655.0L493.4,650.6L495.3,645.7M496.3,646.7L497.9,650.0L495.9,653.9M538.1,646.7L540.0,649.6L539.0,652.5M543.9,650.6L545.8,655.4L544.9,658.3M548.7,658.3L551.7,661.3L550.7,665.1L549.1,661.3M556.1,663.2L556.9,670.0M137.0,399.6L138.9,397.0L144.8,395.1L151.6,396.3L158.3,397.0L163.2,399.6L168.1,401.5L170.6,404.4L170.6,407.3L166.1,406.7L161.3,405.4L158.3,407.9L155.4,410.2L153.5,408.3L148.6,407.9L144.8,405.4L141.8,402.5L138.0,401.5L137.0,399.6M91.4,489.9L91.4,491.8" stroke="#000" stroke-width="1" fill="none" stroke-linejoin="round" shape-rendering="crispEdges"/>
</g>
<rect x="73" y="146" width="485" height="545" fill="none" stroke="#000" stroke-width="2" shape-rendering="crispEdges"/>
<path d="M97.5,692v4M143.5,692v4M189.5,692v4M235.5,692v4M281.5,692v4M327.5,692v4M373.5,692v4M420.5,692v4M466.5,692v4M512.5,692v4M558.5,692v4M72,183.5h-3M72,238.5h-3M72,294.5h-3M72,349.5h-3M72,405.5h-3M72,460.5h-3M72,515.5h-3M72,571.5h-3M72,626.5h-3M72,682.5h-3" stroke="#000" stroke-width="1" fill="none" shape-rendering="crispEdges"/>
<text class="a" x="86.2" y="706" textLength="21.6" lengthAdjust="spacingAndGlyphs">81W</text>
<text class="a" x="132.3" y="706" textLength="21.6" lengthAdjust="spacingAndGlyphs">78W</text>
<text class="a" x="178.4" y="706" textLength="21.6" lengthAdjust="spacingAndGlyphs">75W</text>
<text class="a" x="224.5" y="706" textLength="21.6" lengthAdjust="spacingAndGlyphs">72W</text>
<text class="a" x="270.6" y="706" textLength="21.6" lengthAdjust="spacingAndGlyphs">69W</text>
<text class="a" x="316.7" y="706" textLength="21.6" lengthAdjust="spacingAndGlyphs">66W</text>
<text class="a" x="362.8" y="706" textLength="21.6" lengthAdjust="spacingAndGlyphs">63W</text>
<text class="a" x="408.9" y="706" textLength="21.6" lengthAdjust="spacingAndGlyphs">60W</text>
<text class="a" x="455.0" y="706" textLength="21.6" lengthAdjust="spacingAndGlyphs">57W</text>
<text class="a" x="501.1" y="706" textLength="21.6" lengthAdjust="spacingAndGlyphs">54W</text>
<text class="a" x="547.2" y="706" textLength="21.6" lengthAdjust="spacingAndGlyphs">51W</text>
<text class="a" x="47.4" y="187.9" textLength="20.2" lengthAdjust="spacingAndGlyphs">30N</text>
<text class="a" x="47.4" y="243.3" textLength="20.2" lengthAdjust="spacingAndGlyphs">27N</text>
<text class="a" x="47.4" y="298.8" textLength="20.2" lengthAdjust="spacingAndGlyphs">24N</text>
<text class="a" x="47.4" y="354.2" textLength="20.2" lengthAdjust="spacingAndGlyphs">21N</text>
<text class="a" x="47.4" y="409.7" textLength="20.2" lengthAdjust="spacingAndGlyphs">18N</text>
<text class="a" x="47.4" y="465.1" textLength="20.2" lengthAdjust="spacingAndGlyphs">15N</text>
<text class="a" x="47.4" y="520.6" textLength="20.2" lengthAdjust="spacingAndGlyphs">12N</text>
<text class="a" x="54.0" y="576.0" textLength="13.6" lengthAdjust="spacingAndGlyphs">9N</text>
<text class="a" x="54.0" y="631.5" textLength="13.6" lengthAdjust="spacingAndGlyphs">6N</text>
<text class="a" x="54.0" y="686.9" textLength="13.6" lengthAdjust="spacingAndGlyphs">3N</text>
<text class="t1" x="255.40" y="37.0" textLength="107.10" lengthAdjust="spacingAndGlyphs">al052019</text>
<text class="t" x="219.88" y="66.5" textLength="27.72" lengthAdjust="spacingAndGlyphs">08</text>
<text class="s" x="247.60" y="68.6" textLength="20.14" lengthAdjust="spacingAndGlyphs">/</text>
<text class="t" x="268.20" y="66.5" textLength="27.92" lengthAdjust="spacingAndGlyphs">26</text>
<text class="s" x="296.40" y="68.6" textLength="19.20" lengthAdjust="spacingAndGlyphs">/</text>
<text class="t" x="317.74" y="66.5" textLength="26.48" lengthAdjust="spacingAndGlyphs">19</text>
<text class="t" x="350.64" y="66.5" textLength="45.16" lengthAdjust="spacingAndGlyphs">00Z</text>
<text class="t3" x="62.26" y="110.0" textLength="14.86" lengthAdjust="spacingAndGlyphs">0</text>
<text class="t3" x="75.08" y="107.6" textLength="20.80" lengthAdjust="spacingAndGlyphs">-</text>
<text class="t3" x="99.36" y="110.0" textLength="54.24" lengthAdjust="spacingAndGlyphs">120h</text>
<text class="t3" x="166.40" y="110.0" textLength="50.88" lengthAdjust="spacingAndGlyphs">34kt</text>
<text class="t3" x="229.40" y="110.0" textLength="50.62" lengthAdjust="spacingAndGlyphs">Cum</text>
<text class="t3" x="293.30" y="110.0" textLength="52.58" lengthAdjust="spacingAndGlyphs">Wind</text>
<text class="t3" x="357.64" y="110.0" textLength="68.76" lengthAdjust="spacingAndGlyphs">Speed</text>
<text class="t3" x="438.60" y="110.0" textLength="66.00" lengthAdjust="spacingAndGlyphs">Probs</text>
<text class="t3" x="516.98" y="110.0" textLength="39.00" lengthAdjust="spacingAndGlyphs">(%)</text>
<text class="t" x="268.40" y="140.0" textLength="81.24" lengthAdjust="spacingAndGlyphs">Control</text>
<text class="b" x="35.24" y="787.0" textLength="53.26" lengthAdjust="spacingAndGlyphs">TANG</text>
<text class="b" x="104.54" y="787.0" textLength="7.54" lengthAdjust="spacingAndGlyphs">1</text>
<text class="b" x="112.56" y="784.6" textLength="25.64" lengthAdjust="spacingAndGlyphs">-</text>
<text class="b" x="136.16" y="787.0" textLength="15.20" lengthAdjust="spacingAndGlyphs">2</text>
<text class="b" x="164.30" y="787.0" textLength="59.14" lengthAdjust="spacingAndGlyphs">days:</text>
<text class="b" x="247.22" y="787.0" textLength="54.94" lengthAdjust="spacingAndGlyphs">LOW,</text>
<text class="b" x="335.10" y="787.0" textLength="56.54" lengthAdjust="spacingAndGlyphs">TANG</text>
<text class="b" x="404.44" y="787.0" textLength="14.34" lengthAdjust="spacingAndGlyphs">3</text>
<text class="b" x="417.22" y="784.6" textLength="20.70" lengthAdjust="spacingAndGlyphs">-</text>
<text class="b" x="436.36" y="787.0" textLength="15.28" lengthAdjust="spacingAndGlyphs">5</text>
<text class="b" x="464.78" y="787.0" textLength="59.66" lengthAdjust="spacingAndGlyphs">days:</text>
<text class="b" x="548.22" y="787.0" textLength="47.38" lengthAdjust="spacingAndGlyphs">LOW</text>
<g shape-rendering="crispEdges">
<rect x="97" y="720" width="41" height="15" fill="#009600"/>
<rect x="138" y="720" width="42" height="15" fill="#00dc00"/>
<rect x="180" y="720" width="41" height="15" fill="#a0e632"/>
<rect x="221" y="720" width="41" height="15" fill="#fff03c"/>
<rect x="262" y="720" width="41" height="15" fill="#e6dc32"/>
<rect x="303" y="720" width="42" height="15" fill="#e6af2d"/>
<rect x="345" y="720" width="41" height="15" fill="#f08228"/>
<rect x="386" y="720" width="41" height="15" fill="#fa3c3c"/>
<rect x="427" y="720" width="41" height="15" fill="#960000"/>
<rect x="468" y="720" width="42" height="15" fill="#8200dc"/>
</g>
<path d="M97.5,720L57.5,728L97.5,735.5Z M510.5,720L552.5,728L510.5,735.5Z" fill="#aaaaaa"/>
<path d="M97.5,720L57.5,728L97.5,735.5 M510.5,720L552.5,728L510.5,735.5" fill="none" stroke="#000" stroke-width="1" stroke-dasharray="3 3"/>
<path d="M97,719.5H511M97,735.5H511M97.5,720V736M138.5,720V736M180.5,720V736M221.5,720V736M262.5,720V736M303.5,720V736M345.5,720V736M386.5,720V736M427.5,720V736M468.5,720V736M510.5,720V736" stroke="#000" stroke-width="1" fill="none" shape-rendering="crispEdges"/>
<text class="c" x="99.6" y="749" text-anchor="middle">5</text>
<text class="c" x="140.8" y="749" text-anchor="middle">10</text>
<text class="c" x="182.1" y="749" text-anchor="middle">20</text>
<text class="c" x="223.3" y="749" text-anchor="middle">30</text>
<text class="c" x="264.6" y="749" text-anchor="middle">40</text>
<text class="c" x="305.8" y="749" text-anchor="middle">50</text>
<text class="c" x="347.0" y="749" text-anchor="middle">60</text>
<text class="c" x="388.3" y="749" text-anchor="middle">70</text>
<text class="c" x="429.5" y="749" text-anchor="middle">80</text>
<text class="c" x="470.8" y="749" text-anchor="middle">90</text>
<text class="c" x="512.0" y="749" text-anchor="middle">100</text>
</svg></body></html>
